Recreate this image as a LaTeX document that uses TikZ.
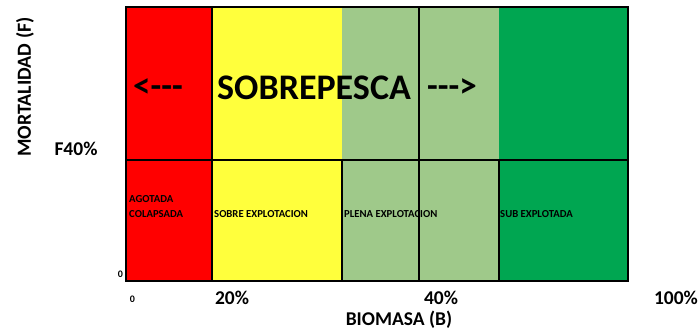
\documentclass[tikz,border=0pt]{standalone}
\usepackage{fontspec}
\setmainfont{Carlito}
\definecolor{cred}{HTML}{FF0000}
\definecolor{cyellow}{HTML}{FFFF3C}
\definecolor{clight}{HTML}{9FC98A}
\definecolor{cgreen}{HTML}{00A651}
\begin{document}
\begin{tikzpicture}[x=1pt,y=-1pt,
  lbl/.style={font=\bfseries\fontsize{#1}{#1}\selectfont, inner sep=0pt},
  cell/.style={inner sep=0pt, anchor=west, font=\bfseries\fontsize{10.7}{15}\selectfont},
  grid/.style={line width=1.6pt, black}]
\useasboundingbox (0,0) rectangle (699,333);
\fill[white] (0,0) rectangle (699,333);
% colour bands
\fill[cred] (126,7) rectangle (212,281);
\fill[cyellow] (212,7) rectangle (342,281);
\fill[clight] (342,7) rectangle (499,281);
\fill[cgreen] (499,7) rectangle (628,281);
% grid lines
\draw[grid] (126,160) -- (628,160);
\draw[grid] (212,7) -- (212,281);
\draw[grid] (419,7) -- (419,281);
\draw[grid] (342,160) -- (342,281);
\draw[grid] (499,160) -- (499,281);
\draw[grid] (126,7) rectangle (628,281);
% labels
\node[lbl=20, rotate=90] (ylab) at (25,87) {MORTALIDAD (F)};
\node[lbl=19.5] (f40) at (76,149) {F40\%};
\node[lbl=35] (left) at (158,88) {<-{}-{}-};
\node[lbl=36] (sobre) at (314,88) {SOBREPESCA};
\node[lbl=35] (right) at (452,88) {-{}-{}->};
\node[cell, align=left] (agot) at (129,206.5) {AGOTADA\\COLAPSADA};
\node[cell] (sobreexp) at (214,214) {SOBRE EXPLOTACION};
\node[cell] (plena) at (344,214) {PLENA EXPLOTACION};
\node[cell] (sub) at (500,214) {SUB EXPLOTADA};
\node[lbl=10] (zy) at (120.5,274) {0};
\node[lbl=10] (zx) at (132.5,299) {0};
\node[lbl=19.5] (p20) at (232,298) {20\%};
\node[lbl=19.5] (p40) at (441,298) {40\%};
\node[lbl=19.5] (p100) at (676,298) {100\%};
\node[lbl=19.5] (xlab) at (399,320) {BIOMASA (B)};
\end{tikzpicture}
\end{document}
